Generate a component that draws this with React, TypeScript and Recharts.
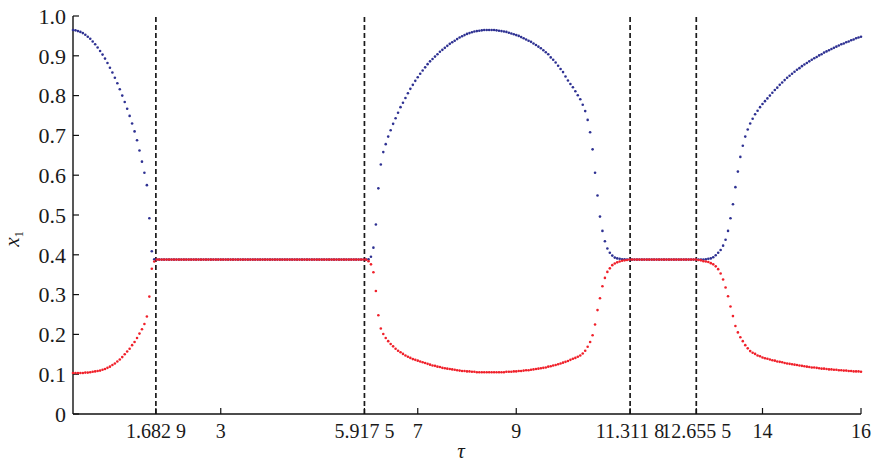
import { ScatterChart, Scatter, XAxis, YAxis, ReferenceLine } from "recharts"

// delay tau, sampled every 0.05
const tau = [
  0, 0.05, 0.1, 0.15, 0.2, 0.25, 0.3, 0.35, 0.4, 0.45,
  0.5, 0.55, 0.6, 0.65, 0.7, 0.75, 0.8, 0.85, 0.9, 0.95,
  1, 1.05, 1.1, 1.15, 1.2, 1.25, 1.3, 1.35, 1.4, 1.45,
  1.5, 1.55, 1.6, 1.65, 1.7, 1.75, 1.8, 1.85, 1.9, 1.95,
  2, 2.05, 2.1, 2.15, 2.2, 2.25, 2.3, 2.35, 2.4, 2.45,
  2.5, 2.55, 2.6, 2.65, 2.7, 2.75, 2.8, 2.85, 2.9, 2.95,
  3, 3.05, 3.1, 3.15, 3.2, 3.25, 3.3, 3.35, 3.4, 3.45,
  3.5, 3.55, 3.6, 3.65, 3.7, 3.75, 3.8, 3.85, 3.9, 3.95,
  4, 4.05, 4.1, 4.15, 4.2, 4.25, 4.3, 4.35, 4.4, 4.45,
  4.5, 4.55, 4.6, 4.65, 4.7, 4.75, 4.8, 4.85, 4.9, 4.95,
  5, 5.05, 5.1, 5.15, 5.2, 5.25, 5.3, 5.35, 5.4, 5.45,
  5.5, 5.55, 5.6, 5.65, 5.7, 5.75, 5.8, 5.85, 5.9, 5.95,
  6, 6.05, 6.1, 6.15, 6.2, 6.25, 6.3, 6.35, 6.4, 6.45,
  6.5, 6.55, 6.6, 6.65, 6.7, 6.75, 6.8, 6.85, 6.9, 6.95,
  7, 7.05, 7.1, 7.15, 7.2, 7.25, 7.3, 7.35, 7.4, 7.45,
  7.5, 7.55, 7.6, 7.65, 7.7, 7.75, 7.8, 7.85, 7.9, 7.95,
  8, 8.05, 8.1, 8.15, 8.2, 8.25, 8.3, 8.35, 8.4, 8.45,
  8.5, 8.55, 8.6, 8.65, 8.7, 8.75, 8.8, 8.85, 8.9, 8.95,
  9, 9.05, 9.1, 9.15, 9.2, 9.25, 9.3, 9.35, 9.4, 9.45,
  9.5, 9.55, 9.6, 9.65, 9.7, 9.75, 9.8, 9.85, 9.9, 9.95,
  10, 10.05, 10.1, 10.15, 10.2, 10.25, 10.3, 10.35, 10.4, 10.45,
  10.5, 10.55, 10.6, 10.65, 10.7, 10.75, 10.8, 10.85, 10.9, 10.95,
  11, 11.05, 11.1, 11.15, 11.2, 11.25, 11.3, 11.35, 11.4, 11.45,
  11.5, 11.55, 11.6, 11.65, 11.7, 11.75, 11.8, 11.85, 11.9, 11.95,
  12, 12.05, 12.1, 12.15, 12.2, 12.25, 12.3, 12.35, 12.4, 12.45,
  12.5, 12.55, 12.6, 12.65, 12.7, 12.75, 12.8, 12.85, 12.9, 12.95,
  13, 13.05, 13.1, 13.15, 13.2, 13.25, 13.3, 13.35, 13.4, 13.45,
  13.5, 13.55, 13.6, 13.65, 13.7, 13.75, 13.8, 13.85, 13.9, 13.95,
  14, 14.05, 14.1, 14.15, 14.2, 14.25, 14.3, 14.35, 14.4, 14.45,
  14.5, 14.55, 14.6, 14.65, 14.7, 14.75, 14.8, 14.85, 14.9, 14.95,
  15, 15.05, 15.1, 15.15, 15.2, 15.25, 15.3, 15.35, 15.4, 15.45,
  15.5, 15.55, 15.6, 15.65, 15.7, 15.75, 15.8, 15.85, 15.9, 15.95,
  16,
]

// upper branch (blue)
const upperBranch = [
  0.965, 0.964, 0.962, 0.960, 0.957, 0.953, 0.948, 0.943, 0.936, 0.929,
  0.921, 0.912, 0.903, 0.893, 0.882, 0.870, 0.858, 0.845, 0.831, 0.816,
  0.800, 0.784, 0.767, 0.749, 0.730, 0.710, 0.688, 0.662, 0.634, 0.606,
  0.575, 0.492, 0.409, 0.389, 0.388, 0.388, 0.388, 0.388, 0.388, 0.388,
  0.388, 0.388, 0.388, 0.388, 0.388, 0.388, 0.388, 0.388, 0.388, 0.388,
  0.388, 0.388, 0.388, 0.388, 0.388, 0.388, 0.388, 0.388, 0.388, 0.388,
  0.388, 0.388, 0.388, 0.388, 0.388, 0.388, 0.388, 0.388, 0.388, 0.388,
  0.388, 0.388, 0.388, 0.388, 0.388, 0.388, 0.388, 0.388, 0.388, 0.388,
  0.388, 0.388, 0.388, 0.388, 0.388, 0.388, 0.388, 0.388, 0.388, 0.388,
  0.388, 0.388, 0.388, 0.388, 0.388, 0.388, 0.388, 0.388, 0.388, 0.388,
  0.388, 0.388, 0.388, 0.388, 0.388, 0.388, 0.388, 0.388, 0.388, 0.388,
  0.388, 0.388, 0.388, 0.388, 0.388, 0.388, 0.388, 0.388, 0.388, 0.388,
  0.389, 0.395, 0.418, 0.476, 0.567, 0.627, 0.658, 0.678, 0.697, 0.713,
  0.729, 0.743, 0.757, 0.771, 0.782, 0.794, 0.806, 0.817, 0.827, 0.837,
  0.846, 0.855, 0.863, 0.871, 0.879, 0.886, 0.892, 0.898, 0.904, 0.910,
  0.915, 0.920, 0.925, 0.930, 0.934, 0.938, 0.942, 0.946, 0.949, 0.952,
  0.955, 0.957, 0.959, 0.961, 0.962, 0.963, 0.964, 0.965, 0.965, 0.965,
  0.965, 0.965, 0.964, 0.963, 0.962, 0.961, 0.960, 0.958, 0.956, 0.954,
  0.952, 0.950, 0.947, 0.944, 0.941, 0.938, 0.935, 0.931, 0.927, 0.923,
  0.919, 0.914, 0.909, 0.904, 0.896, 0.890, 0.883, 0.875, 0.867, 0.859,
  0.848, 0.838, 0.829, 0.821, 0.811, 0.801, 0.791, 0.777, 0.761, 0.739,
  0.708, 0.665, 0.606, 0.549, 0.496, 0.460, 0.434, 0.416, 0.405, 0.398,
  0.393, 0.391, 0.390, 0.389, 0.389, 0.388, 0.388, 0.388, 0.388, 0.388,
  0.388, 0.388, 0.388, 0.388, 0.388, 0.388, 0.388, 0.388, 0.388, 0.388,
  0.388, 0.388, 0.388, 0.388, 0.388, 0.388, 0.388, 0.388, 0.388, 0.388,
  0.388, 0.388, 0.388, 0.388, 0.388, 0.388, 0.388, 0.389, 0.390, 0.391,
  0.394, 0.399, 0.405, 0.412, 0.423, 0.438, 0.460, 0.492, 0.527, 0.570,
  0.609, 0.646, 0.674, 0.697, 0.715, 0.730, 0.742, 0.753, 0.762, 0.771,
  0.779, 0.786, 0.793, 0.800, 0.807, 0.814, 0.820, 0.827, 0.833, 0.839,
  0.845, 0.850, 0.855, 0.860, 0.865, 0.869, 0.874, 0.878, 0.882, 0.886,
  0.890, 0.894, 0.897, 0.901, 0.904, 0.908, 0.911, 0.914, 0.917, 0.920,
  0.923, 0.926, 0.929, 0.931, 0.934, 0.936, 0.939, 0.941, 0.944, 0.946,
  0.948,
]

// lower branch (red)
const lowerBranch = [
  0.103, 0.103, 0.103, 0.103, 0.103, 0.104, 0.104, 0.105, 0.106, 0.107,
  0.108, 0.109, 0.111, 0.113, 0.116, 0.119, 0.123, 0.127, 0.132, 0.137,
  0.143, 0.150, 0.157, 0.164, 0.173, 0.181, 0.191, 0.202, 0.213, 0.226,
  0.245, 0.295, 0.365, 0.383, 0.388, 0.388, 0.388, 0.388, 0.388, 0.388,
  0.388, 0.388, 0.388, 0.388, 0.388, 0.388, 0.388, 0.388, 0.388, 0.388,
  0.388, 0.388, 0.388, 0.388, 0.388, 0.388, 0.388, 0.388, 0.388, 0.388,
  0.388, 0.388, 0.388, 0.388, 0.388, 0.388, 0.388, 0.388, 0.388, 0.388,
  0.388, 0.388, 0.388, 0.388, 0.388, 0.388, 0.388, 0.388, 0.388, 0.388,
  0.388, 0.388, 0.388, 0.388, 0.388, 0.388, 0.388, 0.388, 0.388, 0.388,
  0.388, 0.388, 0.388, 0.388, 0.388, 0.388, 0.388, 0.388, 0.388, 0.388,
  0.388, 0.388, 0.388, 0.388, 0.388, 0.388, 0.388, 0.388, 0.388, 0.388,
  0.388, 0.388, 0.388, 0.388, 0.388, 0.388, 0.388, 0.388, 0.388, 0.388,
  0.384, 0.376, 0.356, 0.309, 0.248, 0.215, 0.201, 0.191, 0.183, 0.176,
  0.170, 0.164, 0.159, 0.155, 0.151, 0.147, 0.144, 0.141, 0.138, 0.136,
  0.134, 0.132, 0.130, 0.128, 0.126, 0.124, 0.122, 0.121, 0.119, 0.118,
  0.116, 0.115, 0.114, 0.113, 0.112, 0.111, 0.110, 0.109, 0.108, 0.108,
  0.107, 0.107, 0.106, 0.106, 0.105, 0.105, 0.105, 0.105, 0.105, 0.105,
  0.105, 0.105, 0.105, 0.105, 0.105, 0.105, 0.106, 0.106, 0.106, 0.107,
  0.107, 0.108, 0.108, 0.109, 0.110, 0.110, 0.111, 0.112, 0.113, 0.114,
  0.115, 0.116, 0.117, 0.119, 0.120, 0.122, 0.123, 0.125, 0.127, 0.129,
  0.131, 0.133, 0.136, 0.139, 0.141, 0.144, 0.147, 0.152, 0.159, 0.169,
  0.181, 0.198, 0.225, 0.261, 0.291, 0.321, 0.342, 0.357, 0.366, 0.374,
  0.378, 0.381, 0.383, 0.385, 0.386, 0.387, 0.388, 0.388, 0.388, 0.388,
  0.388, 0.388, 0.388, 0.388, 0.388, 0.388, 0.388, 0.388, 0.388, 0.388,
  0.388, 0.388, 0.388, 0.388, 0.388, 0.388, 0.388, 0.388, 0.388, 0.388,
  0.388, 0.388, 0.388, 0.388, 0.387, 0.386, 0.384, 0.383, 0.382, 0.379,
  0.376, 0.371, 0.364, 0.353, 0.338, 0.318, 0.296, 0.270, 0.246, 0.221,
  0.205, 0.193, 0.183, 0.173, 0.165, 0.158, 0.154, 0.151, 0.147, 0.145,
  0.142, 0.140, 0.139, 0.137, 0.135, 0.134, 0.132, 0.131, 0.130, 0.128,
  0.127, 0.126, 0.125, 0.124, 0.123, 0.122, 0.121, 0.120, 0.119, 0.118,
  0.117, 0.117, 0.116, 0.115, 0.114, 0.114, 0.113, 0.112, 0.112, 0.111,
  0.111, 0.110, 0.110, 0.109, 0.109, 0.108, 0.108, 0.107, 0.107, 0.107,
  0.106,
]

const bifurcations = [1.6829, 5.9175, 11.3118, 12.6555]
const xTicks = [1.6829, 3, 5.9175, 7, 9, 11.3118, 12.6555, 14, 16]
const xTickLabels = ["1.682 9", "3", "5.917 5", "7", "9", "11.311 8", "12.655 5", "14", "16"]
const yTicks = [0, 0.1, 0.2, 0.3, 0.4, 0.5, 0.6, 0.7, 0.8, 0.9, 1]
const yTickLabels = ["0", "0.1", "0.2", "0.3", "0.4", "0.5", "0.6", "0.7", "0.8", "0.9", "1.0"]

const upperData = tau.map((t, i) => ({ tau: t, x1: upperBranch[i] }))
const lowerData = tau.map((t, i) => ({ tau: t, x1: lowerBranch[i] }))

const serif = "Liberation Serif, DejaVu Serif, serif"
const xTickStyle = { fill: "#1a1a1a", fontSize: 20, style: { fontFamily: serif } }
const yTickStyle = { fill: "#1a1a1a", fontSize: 22, style: { fontFamily: serif } }

const dot = (color: string) => (p: any) => <circle cx={p.cx} cy={p.cy} r={1.3} fill={color} />

export default function App() {
  return (
    <div style={{ position: "absolute", left: 0, top: 0, width: 872, height: 463, background: "#fff", fontFamily: serif }}>
      <ScatterChart width={872} height={463} margin={{ top: 16, right: 11, bottom: 0, left: 0 }} style={{ fontFamily: serif }}>
        <XAxis
          type="number"
          dataKey="tau"
          domain={[0, 16]}
          ticks={xTicks}
          interval={0}
          tickFormatter={(v: number) => xTickLabels[xTicks.indexOf(v)]}
          height={49}
          axisLine={{ stroke: "#111", strokeWidth: 1.4 }}
          tickLine={{ stroke: "#111", strokeWidth: 1.2 }}
          tickSize={-6}
          tickMargin={16}
          tick={xTickStyle}
          label={(props: any) => {
            const vb = props.viewBox
            return (
              <text x={vb.x + vb.width / 2 - 6} y={vb.y + 44} textAnchor="middle" fontSize={21} fontStyle="italic" fill="#1a1a1a" style={{ fontFamily: serif }}>
                τ
              </text>
            )
          }}
        />
        <YAxis
          type="number"
          dataKey="x1"
          domain={[0, 1]}
          ticks={yTicks}
          interval={0}
          tickFormatter={(v: number) => yTickLabels[yTicks.indexOf(v)]}
          width={73}
          axisLine={{ stroke: "#111", strokeWidth: 1.4 }}
          tickLine={{ stroke: "#111", strokeWidth: 1.2 }}
          tickSize={-6}
          tickMargin={13}
          tick={yTickStyle}
          label={(props: any) => {
            const vb = props.viewBox
            return (
              <text transform={`translate(19, ${vb.y + vb.height / 2 + 24}) rotate(-90)`} textAnchor="middle" fontSize={21} fill="#1a1a1a" style={{ fontFamily: serif }}>
                <tspan fontStyle="italic">x</tspan>
                <tspan fontSize={12} dy={4}>1</tspan>
              </text>
            )
          }}
        />
        {bifurcations.map((b) => (
          <ReferenceLine key={b} x={b} stroke="#1a1a1a" strokeWidth={1.7} strokeDasharray="5 3" />
        ))}
        <Scatter data={upperData} shape={dot("#2e3192")} isAnimationActive={false} />
        <Scatter data={lowerData} shape={dot("#f0202a")} isAnimationActive={false} />
      </ScatterChart>
    </div>
  )
}
